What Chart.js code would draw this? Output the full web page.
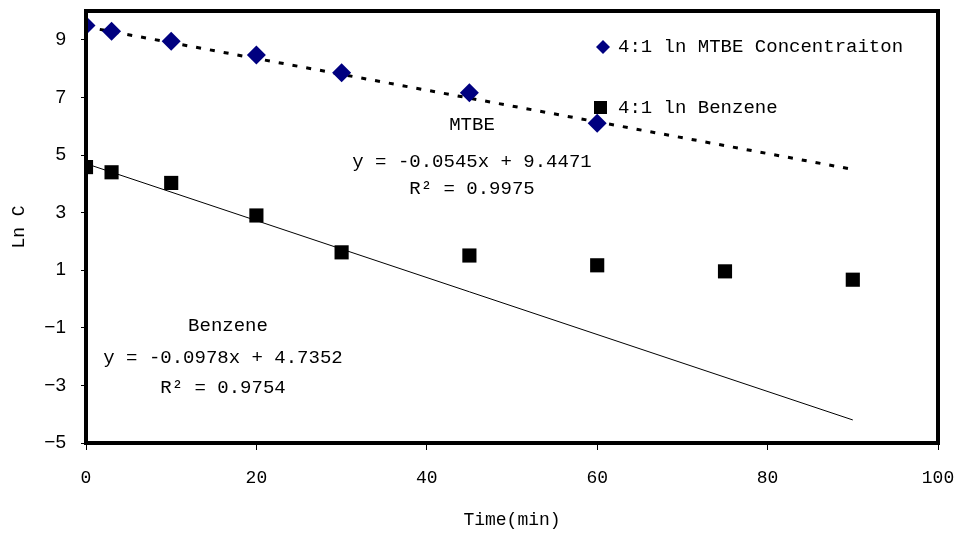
<!DOCTYPE html>
<html lang="en">
<head>
<meta charset="UTF-8" />
<title>Ln C vs Time</title>
<style>
  html, body { margin: 0; padding: 0; background: #fff; }
  #wrap { width: 963px; height: 535px; }
</style>
</head>
<body>
<div id="wrap"><canvas id="chart" width="963" height="535"></canvas></div>
<script src="https://cdn.jsdelivr.net/npm/chart.js@4.4.0/dist/chart.umd.min.js"></script>
<script>
  // data
  const mtbeTime = [0, 3, 10, 20, 30, 45, 60];
  const mtbeLnC = [9.50, 9.30, 8.95, 8.47, 7.86, 7.16, 6.10];
  const benzTime = [0, 3, 10, 20, 30, 45, 60, 75, 90];
  const benzLnC = [4.58, 4.40, 4.03, 2.90, 1.62, 1.51, 1.17, 0.96, 0.67];
  // trend lines, end points
  const mtbeTrendX = [0, 90];
  const mtbeTrendY = [9.45, 4.50];
  const benzTrendX = [0, 90];
  const benzTrendY = [4.70, -4.20];
  // axis ticks
  const xTicks = [0, 20, 40, 60, 80, 100];
  const yTicks = [-5, -3, -1, 1, 3, 5, 7, 9];

  const pts = (xs, ys) => xs.map((x, i) => ({ x: x, y: ys[i] }));
  const MONO = '"Liberation Mono", "DejaVu Sans Mono", monospace';

  // frame, legend and equation labels
  const extras = {
    id: 'extras',
    afterDraw(chart) {
      const ctx = chart.ctx;
      const a = chart.chartArea;
      ctx.save();
      ctx.strokeStyle = '#000';
      ctx.lineWidth = 4;
      ctx.strokeRect(a.left, a.top, a.right - a.left, a.bottom - a.top);

      ctx.fillStyle = '#000';
      ctx.font = '19px ' + MONO;
      ctx.textAlign = 'center';
      ctx.textBaseline = 'middle';
      ctx.fillText('MTBE', 472, 125);
      ctx.fillText('y = -0.0545x + 9.4471', 472, 162);
      ctx.fillText('R\u00b2 = 0.9975', 472, 189);
      ctx.fillText('Benzene', 228, 326);
      ctx.fillText('y = -0.0978x + 4.7352', 223, 358);
      ctx.fillText('R\u00b2 = 0.9754', 223, 388);

      // legend
      ctx.textAlign = 'left';
      ctx.fillStyle = '#000080';
      ctx.beginPath();
      ctx.moveTo(603, 40); ctx.lineTo(610, 47); ctx.lineTo(603, 54); ctx.lineTo(596, 47);
      ctx.closePath();
      ctx.fill();
      ctx.fillStyle = '#000';
      ctx.fillRect(594, 101, 13, 13);
      ctx.fillText('4:1 ln MTBE Concentraiton', 618, 47);
      ctx.fillText('4:1 ln Benzene', 618, 108);
      ctx.restore();
    }
  };

  const ctx = document.getElementById('chart').getContext('2d');

  new Chart(ctx, {
    type: 'scatter',
    data: {
      datasets: [
        {
          label: '4:1 ln MTBE Concentraiton',
          data: pts(mtbeTime, mtbeLnC),
          pointStyle: 'rectRot',
          pointRadius: 9.5,
          backgroundColor: '#000080',
          borderColor: '#000080',
          borderWidth: 0,
          order: 0
        },
        {
          label: '4:1 ln Benzene',
          data: pts(benzTime, benzLnC),
          pointStyle: 'rect',
          pointRadius: 10,
          backgroundColor: '#000',
          borderColor: '#000',
          borderWidth: 0,
          order: 0
        },
        {
          label: 'MTBE trend',
          data: pts(mtbeTrendX, mtbeTrendY),
          showLine: true,
          pointRadius: 0,
          borderColor: '#000',
          borderWidth: 3,
          borderDash: [5, 9],
          order: 1
        },
        {
          label: 'Benzene trend',
          data: pts(benzTrendX, benzTrendY),
          showLine: true,
          pointRadius: 0,
          borderColor: '#000',
          borderWidth: 1,
          order: 1
        }
      ]
    },
    options: {
      responsive: false,
      animation: false,
      layout: { padding: { top: 11, right: 25, left: 0, bottom: 0 } },
      plugins: {
        legend: { display: false },
        tooltip: { enabled: false }
      },
      scales: {
        x: {
          type: 'linear',
          min: 0,
          max: 100,
          afterBuildTicks: s => { s.ticks = xTicks.map(v => ({ value: v })); },
          afterFit: s => { s.height = 92; s.paddingLeft = 0; s.paddingRight = 0; },
          grid: { drawOnChartArea: false, drawTicks: true, tickLength: 7, color: '#000' },
          border: { display: false },
          ticks: { color: '#000', padding: 17, font: { family: MONO, size: 18 } },
          title: { display: true, text: 'Time(min)', color: '#000', font: { family: MONO, size: 18 }, padding: { top: 14 } }
        },
        y: {
          type: 'linear',
          min: -5,
          max: 10,
          afterBuildTicks: s => { s.ticks = yTicks.map(v => ({ value: v })); },
          afterFit: s => { s.width = 86; s.paddingTop = 0; s.paddingBottom = 0; },
          grid: { drawOnChartArea: false, drawTicks: true, tickLength: 5, color: '#000' },
          border: { display: false },
          ticks: {
            color: '#000',
            padding: 15,
            font: { family: '"Liberation Sans", Arial, sans-serif', size: 19 },
            callback: v => String(v).replace('-', '\u2212')
          },
          title: { display: true, text: 'Ln C', color: '#000', font: { family: MONO, size: 18 }, padding: { top: 8 } }
        }
      }
    },
    plugins: [extras]
  });
</script>
</body>
</html>
